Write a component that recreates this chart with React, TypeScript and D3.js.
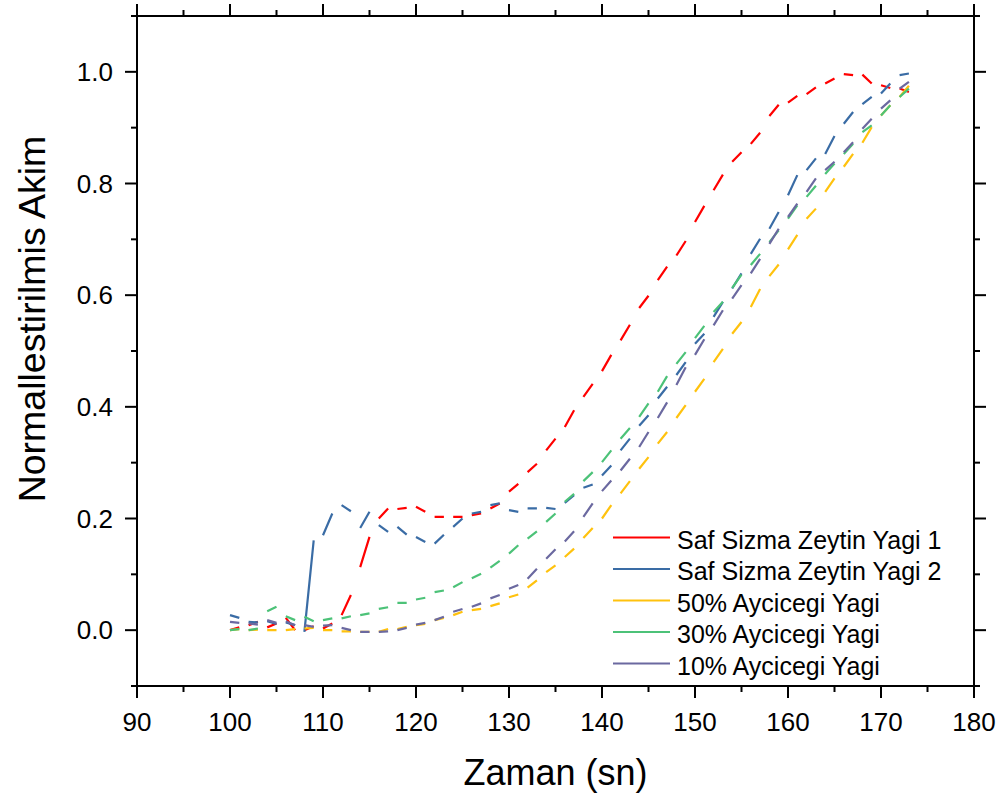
import React from 'react';
import * as d3 from 'd3';

// time axis (s), one sample per second
const times: number[] = d3.range(100, 174);

const seriesNames = [
  'Saf Sizma Zeytin Yagi 1',
  'Saf Sizma Zeytin Yagi 2',
  '50% Aycicegi Yagi',
  '30% Aycicegi Yagi',
  '10% Aycicegi Yagi',
];

const saf1 = [
  0.0, 0.005, 0.009, 0.015, 0.005, 0.012, 0.022, 0.0, 0.0, 0.007,
  0.003, 0.012, 0.027, 0.063, 0.113, 0.167, 0.2, 0.218, 0.217, 0.219,
  0.221, 0.212, 0.203, 0.203, 0.203, 0.203, 0.206, 0.209, 0.218, 0.227,
  0.248, 0.262, 0.283, 0.298, 0.322, 0.343, 0.364, 0.394, 0.418, 0.441,
  0.464, 0.493, 0.519, 0.547, 0.577, 0.599, 0.627, 0.651, 0.671, 0.697,
  0.731, 0.76, 0.788, 0.816, 0.839, 0.856, 0.871, 0.891, 0.921, 0.941,
  0.945, 0.957, 0.96, 0.972, 0.979, 0.988, 0.996, 0.994, 0.995, 0.979,
  0.976, 0.971, 0.97, 0.964,
];

const saf2 = [
  0.027, 0.022, 0.015, 0.014, 0.016, 0.011, 0.014, 0.009, -0.003, 0.161,
  0.17, 0.209, 0.224, 0.213, 0.183, 0.212, 0.188, 0.176, 0.185, 0.171,
  0.167, 0.158, 0.155, 0.171, 0.185, 0.2, 0.209, 0.212, 0.224, 0.227,
  0.215, 0.212, 0.218, 0.218, 0.219, 0.217, 0.228, 0.242, 0.255, 0.261,
  0.277, 0.295, 0.322, 0.343, 0.366, 0.385, 0.415, 0.436, 0.457, 0.48,
  0.513, 0.531, 0.561, 0.588, 0.612, 0.639, 0.674, 0.701, 0.719, 0.749,
  0.779, 0.815, 0.824, 0.845, 0.853, 0.885, 0.907, 0.928, 0.942, 0.955,
  0.961, 0.979, 0.994, 0.997,
];

const aycicegi50 = [
  0.0, 0.002, 0.0, 0.001, 0.0, 0.0, 0.0, 0.002, 0.003, 0.004,
  0.0, 0.0, -0.002, -0.002, -0.003, -0.003, -0.003, 0.002, 0.002, 0.006,
  0.009, 0.011, 0.018, 0.022, 0.027, 0.033, 0.036, 0.038, 0.043, 0.048,
  0.059, 0.064, 0.076, 0.089, 0.104, 0.116, 0.131, 0.146, 0.165, 0.183,
  0.2, 0.224, 0.245, 0.267, 0.289, 0.31, 0.334, 0.355, 0.38, 0.403,
  0.427, 0.45, 0.48, 0.504, 0.531, 0.552, 0.579, 0.611, 0.634, 0.655,
  0.682, 0.708, 0.737, 0.755, 0.785, 0.809, 0.83, 0.853, 0.873, 0.901,
  0.922, 0.94, 0.955, 0.975,
];

const aycicegi30 = [
  0.0, 0.002, 0.0, 0.003, 0.034, 0.042, 0.025, 0.018, 0.024, 0.016,
  0.018, 0.021, 0.021, 0.025, 0.027, 0.03, 0.038, 0.041, 0.049, 0.049,
  0.055, 0.058, 0.068, 0.071, 0.077, 0.086, 0.093, 0.101, 0.112, 0.124,
  0.137, 0.152, 0.164, 0.177, 0.194, 0.209, 0.23, 0.244, 0.267, 0.283,
  0.301, 0.322, 0.343, 0.362, 0.382, 0.406, 0.427, 0.455, 0.477, 0.498,
  0.523, 0.545, 0.57, 0.588, 0.613, 0.637, 0.654, 0.674, 0.695, 0.716,
  0.737, 0.761, 0.776, 0.796, 0.817, 0.836, 0.853, 0.871, 0.892, 0.904,
  0.922, 0.94, 0.955, 0.97,
];

const aycicegi10 = [
  0.015, 0.013, 0.012, 0.01, 0.018, 0.013, 0.016, 0.009, 0.009, 0.006,
  0.008, 0.009, 0.004, 0.0, -0.003, -0.003, -0.003, -0.002, 0.0, 0.004,
  0.01, 0.013, 0.018, 0.024, 0.033, 0.038, 0.042, 0.048, 0.057, 0.063,
  0.074, 0.081, 0.092, 0.11, 0.128, 0.145, 0.159, 0.177, 0.203, 0.227,
  0.249, 0.268, 0.286, 0.307, 0.328, 0.355, 0.38, 0.408, 0.439, 0.471,
  0.493, 0.521, 0.546, 0.573, 0.594, 0.618, 0.639, 0.665, 0.692, 0.719,
  0.74, 0.764, 0.785, 0.809, 0.824, 0.839, 0.856, 0.874, 0.898, 0.916,
  0.934, 0.949, 0.97, 0.982,
];

const seriesValues = [saf1, saf2, aycicegi50, aycicegi30, aycicegi10];
const seriesColors = ['#ff0000', '#3a6ca5', '#ffc20e', '#4cc278', '#6b69a0'];

const xMajor = [90, 100, 110, 120, 130, 140, 150, 160, 170, 180];
const xMinor = [95, 105, 115, 125, 135, 145, 155, 165, 175];
const yMajor = [0, 0.2, 0.4, 0.6, 0.8, 1.0];
const yMinor = [-0.1, 0.1, 0.3, 0.5, 0.7, 0.9, 1.1];

const FONT = '"Liberation Sans", Arial, sans-serif';

export default function App() {
  const L = 137, R = 974, T = 16, B = 686;
  const x = d3.scaleLinear().domain([90, 180]).range([L, R]);
  const y = d3.scaleLinear().domain([-0.1, 1.1]).range([B, T]);
  const line = d3.line<[number, number]>().x(d => x(d[0])).y(d => y(d[1]));

  // Dashed look: every other sample-to-sample segment is drawn
  const pathFor = (vals: number[]) => {
    let d = '';
    for (let i = 0; i + 1 < vals.length; i += 2) {
      d += line([[times[i], vals[i]], [times[i + 1], vals[i + 1]]]) || '';
    }
    return d;
  };

  const majorLen = 12, minorLen = 6;
  const stroke = '#000';

  return (
    <svg width={998} height={798} style={{ position: 'absolute', left: 0, top: 0, background: '#fff' }}>
      <rect x={0} y={0} width={998} height={798} fill="#fff" />
      {/* series */}
      {seriesValues.map((vals, i) => (
        <path key={i} d={pathFor(vals)} fill="none" stroke={seriesColors[i]} strokeWidth={2.2} strokeLinecap="butt" />
      ))}
      {/* frame */}
      <rect x={L} y={T} width={R - L} height={B - T} fill="none" stroke={stroke} strokeWidth={2} />
      {/* bottom and top ticks */}
      {xMajor.map(v => (
        <g key={'xm' + v}>
          <line x1={x(v)} x2={x(v)} y1={B} y2={B + majorLen} stroke={stroke} strokeWidth={2} />
          <line x1={x(v)} x2={x(v)} y1={T} y2={T - majorLen} stroke={stroke} strokeWidth={2} />
          <text x={x(v)} y={731} textAnchor="middle" fontFamily={FONT} fontSize={26} fill="#000">{v}</text>
        </g>
      ))}
      {xMinor.map(v => (
        <g key={'xn' + v}>
          <line x1={x(v)} x2={x(v)} y1={B} y2={B + minorLen} stroke={stroke} strokeWidth={2} />
          <line x1={x(v)} x2={x(v)} y1={T} y2={T - minorLen} stroke={stroke} strokeWidth={2} />
        </g>
      ))}
      {/* left and right ticks */}
      {yMajor.map(v => (
        <g key={'ym' + v}>
          <line x1={L} x2={L - majorLen} y1={y(v)} y2={y(v)} stroke={stroke} strokeWidth={2} />
          <line x1={R} x2={R + majorLen} y1={y(v)} y2={y(v)} stroke={stroke} strokeWidth={2} />
          <text x={113} y={y(v) + 9} textAnchor="end" fontFamily={FONT} fontSize={26} fill="#000">{v.toFixed(1)}</text>
        </g>
      ))}
      {yMinor.map(v => (
        <g key={'yn' + v}>
          <line x1={L} x2={L - minorLen} y1={y(v)} y2={y(v)} stroke={stroke} strokeWidth={2} />
          <line x1={R} x2={R + minorLen} y1={y(v)} y2={y(v)} stroke={stroke} strokeWidth={2} />
        </g>
      ))}
      {/* axis titles */}
      <text x={(L + R) / 2} y={785} textAnchor="middle" fontFamily={FONT} fontSize={36} fill="#000">Zaman (sn)</text>
      <text transform={`translate(45, ${(T + B) / 2 - 32}) rotate(-90)`} textAnchor="middle" fontFamily={FONT} fontSize={37.5} fill="#000">Normallestirilmis Akim</text>
      {/* legend */}
      {seriesNames.map((name, i) => {
        const ly = 537.5 + i * 31.5;
        return (
          <g key={'lg' + i}>
            <line x1={613} x2={670} y1={ly} y2={ly} stroke={seriesColors[i]} strokeWidth={2} />
            <text x={677} y={ly + 11} fontFamily={FONT} fontSize={25} fill="#000">{name}</text>
          </g>
        );
      })}
    </svg>
  );
}
